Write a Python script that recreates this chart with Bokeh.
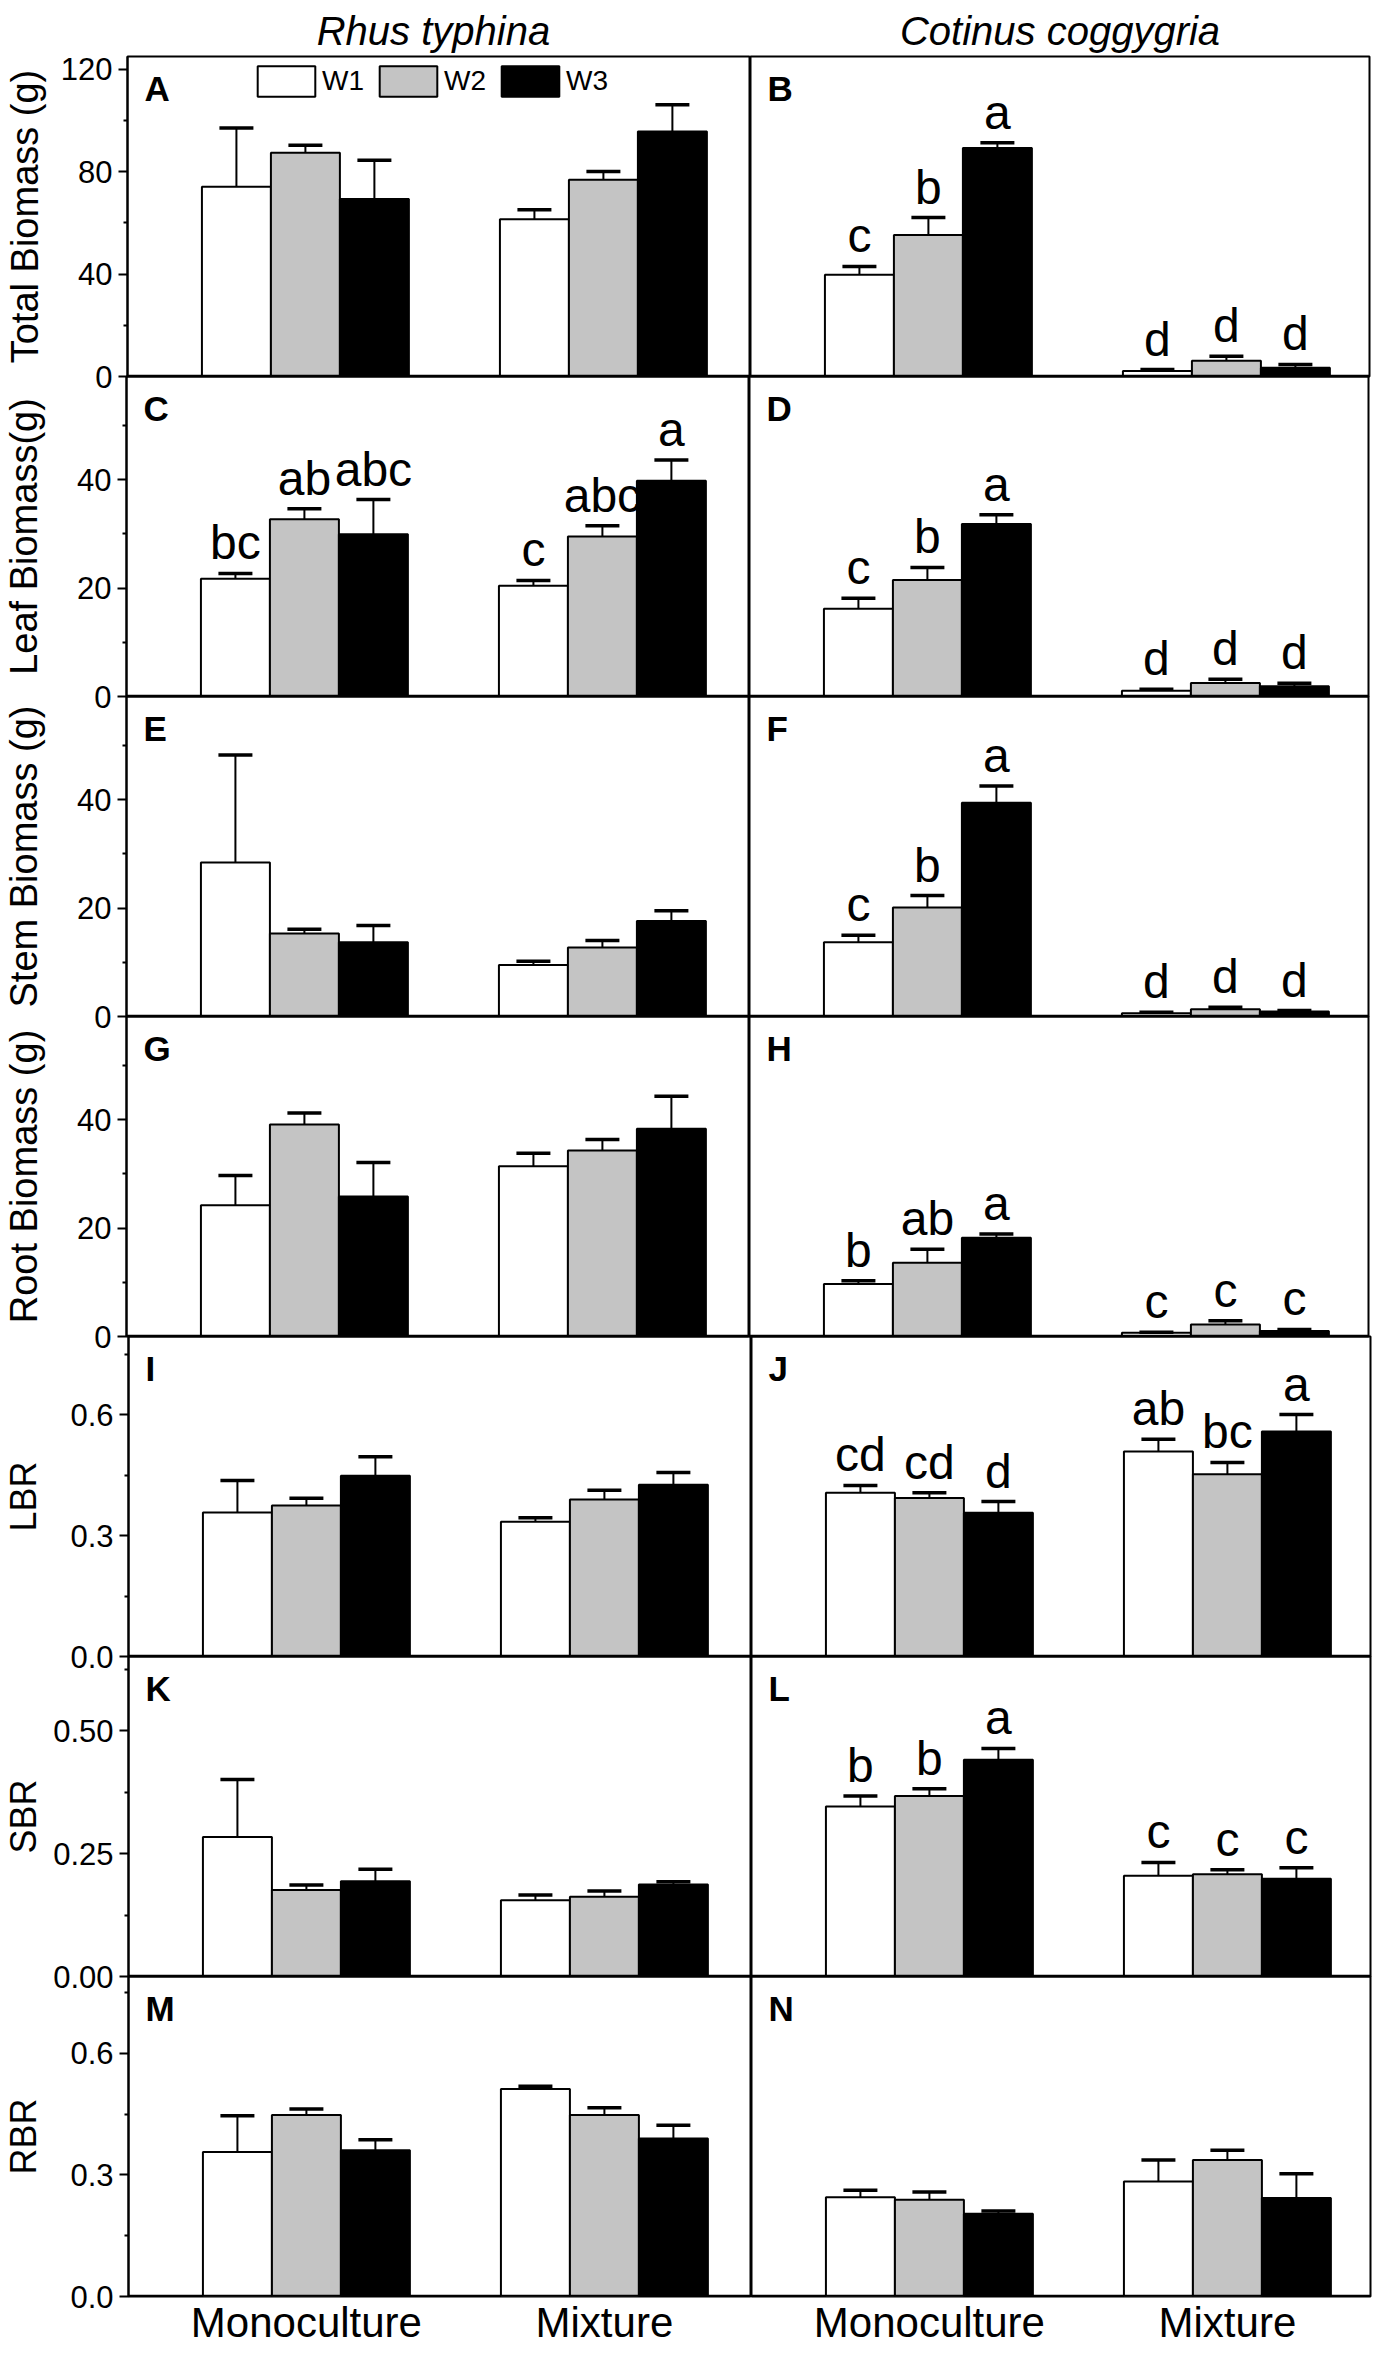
from bokeh.plotting import figure
from bokeh.models import (Range1d, FixedTicker, PrintfTickFormatter, Whisker, TeeHead,
                          ColumnDataSource, Span, Legend, LegendItem, LabelSet)
from bokeh.layouts import column, row
from bokeh.embed import file_html
from bokeh.resources import INLINE
from bokeh.core.properties import value

# ---------------- data (order: Monoculture W1, W2, W3, Mixture W1, W2, W3) ----------------
groups = ["Monoculture", "Mixture"]
treatments = ["W1", "W2", "W3"]
species = ["Rhus  typhina", "Cotinus coggygria"]

rhus_total_mean = [74.1, 87.4, 69.3, 61.4, 76.9, 95.7]
rhus_total_se = [23.0, 2.9, 15.2, 3.7, 3.2, 10.5]
cot_total_mean = [39.7, 55.3, 89.3, 2.1, 6.2, 3.4]
cot_total_se = [3.3, 6.8, 2.0, 0.6, 1.7, 1.3]
cot_total_sig = ["c", "b", "a", "d", "d", "d"]

rhus_leaf_mean = [21.7, 32.7, 29.9, 20.4, 29.5, 39.8]
rhus_leaf_se = [1.0, 1.9, 6.4, 1.0, 2.0, 3.8]
rhus_leaf_sig = ["bc", "ab", "abc", "c", "abc", "a"]
cot_leaf_mean = [16.2, 21.5, 31.8, 1.05, 2.5, 1.9]
cot_leaf_se = [1.9, 2.3, 1.7, 0.3, 0.7, 0.55]
cot_leaf_sig = ["c", "b", "a", "d", "d", "d"]

rhus_stem_mean = [28.4, 15.3, 13.7, 9.5, 12.7, 17.6]
rhus_stem_se = [19.8, 0.8, 3.1, 0.7, 1.3, 1.9]
cot_stem_mean = [13.7, 20.1, 39.4, 0.6, 1.35, 0.9]
cot_stem_se = [1.3, 2.2, 3.1, 0.2, 0.35, 0.2]
cot_stem_sig = ["c", "b", "a", "d", "d", "d"]

rhus_root_mean = [24.2, 39.1, 25.8, 31.4, 34.3, 38.3]
rhus_root_se = [5.5, 2.1, 6.3, 2.4, 2.0, 6.0]
cot_root_mean = [9.7, 13.6, 18.2, 0.7, 2.2, 1.0]
cot_root_se = [0.6, 2.5, 0.7, 0.1, 0.7, 0.3]
cot_root_sig = ["b", "ab", "a", "c", "c", "c"]

rhus_lbr_mean = [0.358, 0.375, 0.449, 0.335, 0.390, 0.427]
rhus_lbr_se = [0.079, 0.018, 0.047, 0.010, 0.023, 0.030]
cot_lbr_mean = [0.407, 0.394, 0.357, 0.509, 0.453, 0.559]
cot_lbr_se = [0.018, 0.013, 0.028, 0.031, 0.029, 0.042]
cot_lbr_sig = ["cd", "cd", "d", "ab", "bc", "a"]

rhus_sbr_mean = [0.284, 0.176, 0.194, 0.155, 0.162, 0.187]
rhus_sbr_se = [0.117, 0.010, 0.024, 0.011, 0.012, 0.006]
cot_sbr_mean = [0.346, 0.367, 0.441, 0.205, 0.208, 0.199]
cot_sbr_se = [0.021, 0.015, 0.023, 0.027, 0.009, 0.022]
cot_sbr_sig = ["b", "b", "a", "c", "c", "c"]

rhus_rbr_mean = [0.357, 0.448, 0.361, 0.512, 0.448, 0.390]
rhus_rbr_se = [0.089, 0.015, 0.026, 0.007, 0.018, 0.033]
cot_rbr_mean = [0.245, 0.239, 0.204, 0.284, 0.337, 0.243]
cot_rbr_se = [0.017, 0.019, 0.007, 0.053, 0.024, 0.060]

y_labels = ["Total Biomass (g)", "Leaf Biomass(g)", "Stem Biomass (g)", "Root Biomass (g)",
            "LBR", "SBR", "RBR"]
y_max = [125, 59, 59, 59, 0.795, 0.651, 0.79]
y_ticks = [[0, 40, 80, 120], [0, 20, 40], [0, 20, 40], [0, 20, 40],
           [0, 0.3, 0.6], [0, 0.25, 0.5], [0, 0.3, 0.6]]
y_minor = [[20, 60, 100], [10, 30, 50], [10, 30, 50], [10, 30, 50],
           [0.15, 0.45, 0.75], [0.125, 0.375, 0.625], [0.15, 0.45, 0.75]]
y_fmt = ["%d", "%d", "%d", "%d", "%.1f", "%.2f", "%.1f"]
panel_letters = [["A", "B"], ["C", "D"], ["E", "F"], ["G", "H"], ["I", "J"], ["K", "L"], ["M", "N"]]

left_data = [(rhus_total_mean, rhus_total_se, None), (rhus_leaf_mean, rhus_leaf_se, rhus_leaf_sig),
             (rhus_stem_mean, rhus_stem_se, None), (rhus_root_mean, rhus_root_se, None),
             (rhus_lbr_mean, rhus_lbr_se, None), (rhus_sbr_mean, rhus_sbr_se, None),
             (rhus_rbr_mean, rhus_rbr_se, None)]
right_data = [(cot_total_mean, cot_total_se, cot_total_sig), (cot_leaf_mean, cot_leaf_se, cot_leaf_sig),
              (cot_stem_mean, cot_stem_se, cot_stem_sig), (cot_root_mean, cot_root_se, cot_root_sig),
              (cot_lbr_mean, cot_lbr_se, cot_lbr_sig), (cot_sbr_mean, cot_sbr_se, cot_sbr_sig),
              (cot_rbr_mean, cot_rbr_se, None)]

# ---------------- styling ----------------
FONT = "Liberation Sans"
FILLS = ["white", "#c4c4c4", "black"]
BAR_W = 0.2315
PX_PER_UNIT = 298.0
X0 = 0.403
FRAME_H = 320
LEFT_BORDER = 123
LEFT_FW = 623
RIGHT_FW = 619
OVER_B = 18
OVER_T = 18
TICK_FS = 31
YLABEL_FS = [38, 38, 38, 38, 36, 36, 36]
TITLE_OFFSET = [8, 34]


def label_width(fmt, ticks):
    w = 0
    for t in ticks:
        s = fmt % t
        w = max(w, sum(0.278 if ch == "." else 0.556 for ch in s) * TICK_FS)
    return w


def make_panel(left, idx):
    fw = LEFT_FW if left else RIGHT_FW
    top = idx == 0
    bottom = idx == 6
    mean, se, sig = (left_data if left else right_data)[idx]
    ymax = y_max[idx]
    p = figure(frame_width=fw, frame_height=FRAME_H,
               x_range=Range1d(X0, X0 + fw / PX_PER_UNIT),
               y_range=Range1d(0, ymax),
               output_backend="svg", toolbar_location=None,
               min_border_left=LEFT_BORDER if left else 0,
               min_border_right=0 if left else 2,
               min_border_top=56 if top else OVER_T,
               min_border_bottom=50 if bottom else OVER_B,
               background_fill_color=None, border_fill_color=None,
               outline_line_color="black", outline_line_width=2)
    p.grid.visible = False

    items = []
    for ti, t in enumerate(treatments):
        xs = [gi + 1 + (ti - 1) * BAR_W for gi in range(len(groups))]
        tops = [mean[gi * 3 + ti] for gi in range(len(groups))]
        ups = [mean[gi * 3 + ti] + se[gi * 3 + ti] for gi in range(len(groups))]
        src = ColumnDataSource(dict(x=xs, top=tops, upper=ups))
        r = p.vbar(x="x", top="top", bottom=0, width=BAR_W, source=src,
                   fill_color=FILLS[ti], line_color="black", line_width=2)
        items.append(LegendItem(label=t, renderers=[r]))
        p.add_layout(Whisker(source=src, base="x", lower="top", upper="upper",
                             dimension="height", line_color="black", line_width=2,
                             upper_head=TeeHead(size=34, line_color="black", line_width=3.5),
                             lower_head=None, level="glyph"))
        if sig is not None:
            lsrc = ColumnDataSource(dict(x=xs, y=ups,
                                         text=[sig[gi * 3 + ti] for gi in range(len(groups))]))
            p.add_layout(LabelSet(x="x", y="y", text="text", source=lsrc, y_offset=14,
                                  text_align="center", text_baseline="alphabetic",
                                  text_font=value(FONT), text_font_size="48px",
                                  text_color="black"))

    p.text(x=[X0], y=[ymax], text=[panel_letters[idx][0 if left else 1]],
           x_offset=17, y_offset=12, text_baseline="top", text_align="left",
           text_font=value(FONT), text_font_style="bold", text_font_size="35px",
           text_color="black")

    p.add_layout(Span(location=0, dimension="width", line_color="black", line_width=3.5))

    if left:
        ax = p.yaxis[0]
        ax.ticker = FixedTicker(ticks=y_ticks[idx], minor_ticks=y_minor[idx])
        ax.formatter = PrintfTickFormatter(format=y_fmt[idx])
        ax.axis_label = y_labels[idx]
        fs = YLABEL_FS[idx]
        ax.axis_label_text_font = FONT
        ax.axis_label_text_font_size = f"{fs}px"
        ax.axis_label_text_font_style = "normal"
        ax.axis_label_text_color = "black"
        room = LEFT_BORDER - 15 - 1.12 * fs - label_width(y_fmt[idx], y_ticks[idx]) - 1
        ax.axis_label_standoff = max(0, int(room))
        ax.major_label_text_font = FONT
        ax.major_label_text_font_size = f"{TICK_FS}px"
        ax.major_label_text_color = "black"
        ax.major_label_standoff = 6
        ax.major_tick_out = 9
        ax.major_tick_in = 0
        ax.minor_tick_out = 4
        ax.minor_tick_in = 0
        ax.major_tick_line_width = 2
        ax.minor_tick_line_width = 2
        ax.major_tick_line_color = "black"
        ax.minor_tick_line_color = "black"
        ax.axis_line_width = 2
        ax.axis_line_color = "black"
    else:
        p.yaxis.visible = False

    if bottom:
        xa = p.xaxis[0]
        xa.ticker = FixedTicker(ticks=[1, 2])
        xa.major_label_overrides = {1: groups[0], 2: groups[1]}
        xa.major_tick_line_color = None
        xa.minor_tick_line_color = None
        xa.major_tick_out = 0
        xa.major_tick_in = 0
        xa.minor_tick_out = 0
        xa.axis_line_color = None
        xa.major_label_text_font = FONT
        xa.major_label_text_font_size = "42px"
        xa.major_label_text_color = "black"
        xa.major_label_standoff = 2
    else:
        p.xaxis.visible = False

    if top:
        p.title.text = species[0 if left else 1]
        p.title.align = "center"
        p.title.offset = TITLE_OFFSET[0 if left else 1]
        p.title.text_font = FONT
        p.title.text_font_style = "italic"
        p.title.text_font_size = "40px"
        p.title.text_color = "black"
        p.title.standoff = 8

    if left and top:
        leg = Legend(items=items, orientation="horizontal", location=(123, FRAME_H - 6 - 38),
                     glyph_width=72, glyph_height=38, label_standoff=0, spacing=8,
                     padding=0, margin=0, border_line_alpha=0, background_fill_alpha=0,
                     label_text_font=FONT, label_text_font_size="28px",
                     label_text_color="black")
        p.add_layout(leg)
    return p


rows = []
for i in range(7):
    lf = make_panel(True, i)
    rf = make_panel(False, i)
    m = (0, 0, 0, 0) if i == 0 else (-(OVER_B + OVER_T), 0, 0, 0)
    rows.append(row(lf, rf, spacing=0, margin=m))

layout = column(*rows, spacing=0)
open("out.html", "w").write(file_html(layout, INLINE))
